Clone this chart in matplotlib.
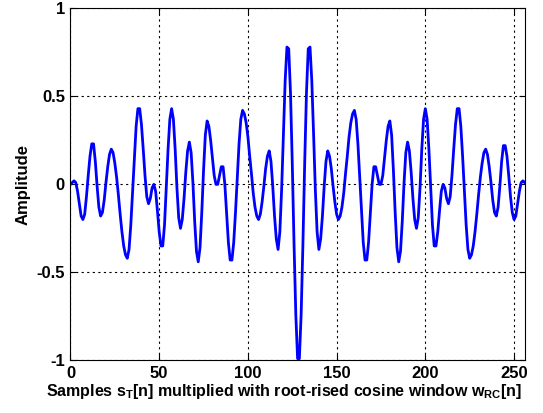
import matplotlib
matplotlib.use('Agg')
import matplotlib.pyplot as plt
import numpy as np

# samples n = 0..256
n = np.arange(257)
amp_left = [0.00, 0.01, 0.02, 0.01, -0.04, -0.11, -0.18, -0.20, -0.17, -0.07,
            0.05, 0.16, 0.23, 0.23, 0.13, -0.01, -0.13, -0.18, -0.16, -0.09,
            0.01, 0.10, 0.17, 0.20, 0.18, 0.12, 0.04, -0.06, -0.17, -0.27,
            -0.35, -0.40, -0.42, -0.37, -0.23, -0.04, 0.16, 0.33, 0.43, 0.43,
            0.34, 0.20, 0.05, -0.07, -0.11, -0.08, -0.02, 0.00, -0.04, -0.15,
            -0.27, -0.35, -0.35, -0.23, -0.02, 0.20, 0.37, 0.43, 0.37, 0.20,
            -0.02, -0.19, -0.25, -0.20, -0.08, 0.07, 0.19, 0.24, 0.18, 0.01,
            -0.21, -0.38, -0.44, -0.36, -0.16, 0.08, 0.28, 0.36, 0.33, 0.25,
            0.15, 0.05, 0.00, 0.00, 0.05, 0.10, 0.10, 0.00, -0.17, -0.33,
            -0.43, -0.43, -0.33, -0.16, 0.04, 0.23, 0.37, 0.42, 0.40, 0.35,
            0.27, 0.16, 0.06, -0.05, -0.13, -0.18, -0.20, -0.17, -0.10, -0.01,
            0.09, 0.16, 0.19, 0.13, -0.01, -0.18, -0.31, -0.37, -0.27, -0.03,
            0.29, 0.59, 0.78, 0.77, 0.52, 0.12, -0.34, -0.74, -0.99]
amp_right = [-0.99, -0.74, -0.34, 0.12, 0.52, 0.77, 0.78, 0.59, 0.29, -0.03,
             -0.27, -0.37, -0.31, -0.18, -0.01, 0.13, 0.19, 0.16, 0.09, -0.01,
             -0.10, -0.17, -0.20, -0.18, -0.13, -0.05, 0.06, 0.16, 0.27, 0.35,
             0.40, 0.42, 0.37, 0.23, 0.04, -0.16, -0.33, -0.43, -0.43, -0.33,
             -0.17, 0.00, 0.10, 0.10, 0.05, 0.00, 0.00, 0.05, 0.15, 0.25,
             0.33, 0.36, 0.28, 0.08, -0.16, -0.36, -0.44, -0.38, -0.21, 0.01,
             0.18, 0.24, 0.19, 0.07, -0.08, -0.20, -0.25, -0.19, -0.02, 0.20,
             0.37, 0.43, 0.37, 0.20, -0.02, -0.23, -0.35, -0.35, -0.27, -0.15,
             -0.04, 0.00, -0.02, -0.08, -0.11, -0.07, 0.05, 0.20, 0.34, 0.43,
             0.43, 0.33, 0.16, -0.04, -0.23, -0.37, -0.42, -0.40, -0.35, -0.27,
             -0.17, -0.06, 0.04, 0.12, 0.18, 0.20, 0.17, 0.10, 0.01, -0.09,
             -0.16, -0.18, -0.13, -0.01, 0.13, 0.22, 0.22, 0.16, 0.05, -0.07,
             -0.16, -0.20, -0.18, -0.11, -0.04, 0.01, 0.02, 0.01]
amp = amp_left + amp_right

xticks = [0, 50, 100, 150, 200, 250]
yticks = [-1, -0.5, 0, 0.5, 1]
yticklabels = ['-1', '-0.5', '0', '0.5', '1']

plt.rcParams['font.family'] = 'Liberation Sans'
plt.rcParams['font.weight'] = 'bold'
plt.rcParams['mathtext.fontset'] = 'custom'
plt.rcParams['mathtext.rm'] = 'Liberation Sans:bold'

fig = plt.figure(figsize=(5.43, 4.13), dpi=100)
ax = fig.add_axes([0.1298, 0.1274, 0.8365, 0.8525])
ax.plot(n, amp, color='#0000ff', lw=2.0)

ax.set_xlim(0, 256)
ax.set_ylim(-1, 1)
ax.set_xticks(xticks)
ax.set_yticks(yticks)
ax.set_yticklabels(yticklabels)
ax.grid(True, color='black', linestyle=(0, (2, 3)), lw=0.8)
ax.tick_params(direction='in', top=True, right=True, labelsize=12, length=4, pad=4)
for s in ax.spines.values():
    s.set_linewidth(0.8)

ax.set_ylabel('Amplitude', fontsize=12, fontweight='bold')
ax.set_xlabel(r'Samples s$_\mathrm{T}$[n] multiplied with root-rised cosine window w$_\mathrm{RC}$[n]',
              fontsize=11.5, fontweight='bold')
ax.xaxis.set_label_coords(0.47, -0.062)

fig.savefig('out.png', dpi=100)
